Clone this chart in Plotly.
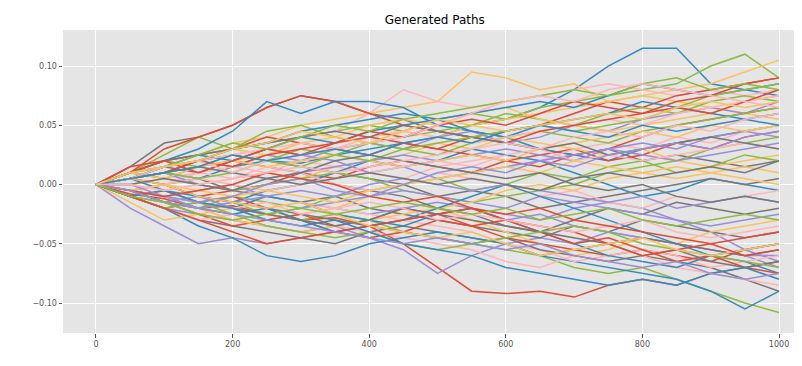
import plotly.graph_objects as go

steps = list(range(0, 1001, 50))

paths = [
    # group 1
    [0, -.008, -.012, -.02, -.018, -.025, -.03, -.028, -.035, -.05, -.07, -.09, -.092, -.09, -.095, -.085, -.08, -.085, -.075, -.07, -.065],
    [0, .005, .01, .005, .015, .02, .018, .025, .03, .035, .04, .05, .055, .065, .08, .1, .115, .115, .085, .08, .075],
    [0, -.01, -.02, -.025, -.03, -.035, -.04, -.035, -.045, -.055, -.075, -.06, -.05, -.045, -.05, -.04, -.045, -.05, -.055, -.06, -.06],
    [0, .015, .035, .04, .05, .065, .075, .07, .06, .055, .045, .04, .035, .03, .025, .03, .02, .025, .02, .015, .02],
    [0, .01, .02, .025, .035, .04, .05, .055, .06, .065, .07, .095, .09, .08, .085, .07, .075, .07, .065, .06, .055],
    [0, .01, .025, .04, .03, .035, .04, .045, .05, .045, .055, .06, .055, .065, .07, .075, .08, .085, .1, .11, .09],
    [0, .005, .01, .02, .025, .03, .04, .045, .06, .08, .07, .065, .07, .075, .08, .085, .08, .075, .08, .075, .08],
    # group 2
    [0, .01, .03, .04, .05, .065, .075, .07, .06, .05, .045, .04, .045, .05, .06, .07, .065, .075, .08, .085, .09],
    [0, .01, .02, .03, .045, .07, .06, .07, .07, .065, .05, .045, .04, .03, .025, .02, .03, .035, .04, .045, .05],
    [0, -.02, -.035, -.05, -.045, -.05, -.045, -.04, -.035, -.03, -.025, -.02, -.025, -.03, -.02, -.015, -.02, -.03, -.04, -.055, -.065],
    [0, -.01, -.02, -.03, -.035, -.04, -.045, -.05, -.04, -.035, -.04, -.045, -.05, -.06, -.055, -.05, -.06, -.065, -.07, -.08, -.09],
    [0, .005, .01, .015, .02, .025, .035, .03, .04, .045, .04, .05, .055, .06, .065, .07, .075, .08, .085, .095, .105],
    [0, -.005, -.01, -.02, -.015, -.025, -.03, -.025, -.03, -.04, -.045, -.05, -.055, -.06, -.07, -.075, -.07, -.08, -.09, -.1, -.108],
    [0, -.01, -.015, -.02, -.03, -.025, -.03, -.035, -.04, -.045, -.05, -.055, -.065, -.07, -.06, -.065, -.06, -.07, -.075, -.08, -.085],
    # group 3
    [0, .005, .0, -.01, -.005, .0, .01, .005, .015, .02, .015, .01, .02, .025, .03, .02, .025, .035, .03, .04, .045],
    [0, -.01, -.02, -.035, -.045, -.06, -.065, -.06, -.05, -.045, -.04, -.045, -.05, -.06, -.065, -.07, -.075, -.08, -.09, -.105, -.09],
    [0, .005, .015, .02, .015, .025, .02, .03, .035, .03, .04, .045, .035, .04, .05, .045, .055, .06, .065, .06, .07],
    [0, -.005, .0, .005, -.005, -.01, -.015, -.01, -.02, -.025, -.03, -.035, -.04, -.045, -.035, -.04, -.03, -.035, -.04, -.045, -.04],
    [0, -.015, -.03, -.025, -.02, -.03, -.025, -.02, -.01, -.015, -.02, -.03, -.04, -.05, -.06, -.055, -.045, -.05, -.04, -.035, -.03],
    [0, .01, .02, .015, .025, .02, .03, .025, .035, .04, .045, .05, .06, .055, .05, .06, .065, .06, .07, .075, .07],
    [0, .005, .0, .01, .015, .01, .02, .015, .01, .005, .015, .02, .025, .02, .03, .035, .03, .04, .035, .045, .05],
    # group 4
    [0, -.005, -.015, -.025, -.035, -.03, -.025, -.035, -.03, -.02, -.025, -.035, -.045, -.05, -.055, -.06, -.055, -.06, -.065, -.055, -.05],
    [0, .005, -.005, -.01, -.015, -.005, .0, .01, .02, .015, .02, .03, .025, .02, .01, .0, -.01, -.005, .005, .0, -.005],
    [0, -.005, -.01, -.005, .0, -.01, -.015, -.02, -.025, -.02, -.015, -.02, -.03, -.025, -.035, -.04, -.045, -.05, -.055, -.06, -.07],
    [0, .005, .01, .02, .025, .02, .015, .01, .005, .0, -.01, -.005, -.01, -.02, -.015, -.01, -.005, .0, .005, .0, .005],
    [0, -.01, -.005, .0, .005, .01, .005, .015, .02, .025, .035, .03, .04, .035, .03, .025, .03, .02, .015, .02, .025],
    [0, -.005, -.015, -.02, -.01, -.015, -.02, -.01, -.005, .0, .005, -.005, .0, .01, .005, .015, .02, .01, .015, .025, .02],
    [0, -.01, -.02, -.03, -.025, -.02, -.015, -.02, -.025, -.03, -.035, -.04, -.05, -.055, -.065, -.06, -.055, -.06, -.07, -.065, -.06],
    # group 5
    [0, .015, .02, .025, .03, .04, .035, .03, .025, .035, .03, .025, .02, .015, .025, .03, .04, .05, .055, .06, .065],
    [0, -.005, -.01, -.015, -.02, -.01, -.015, -.025, -.03, -.035, -.025, -.02, -.03, -.04, -.05, -.06, -.065, -.07, -.06, -.065, -.075],
    [0, .01, .005, .015, .02, .03, .025, .02, .01, .015, .005, .01, .015, .02, .025, .03, .035, .03, .04, .045, .04],
    [0, .005, .015, .01, .02, .015, .01, .0, -.005, -.01, -.02, -.025, -.035, -.04, -.03, -.02, -.025, -.015, -.02, -.025, -.02],
    [0, .005, .015, .025, .03, .025, .035, .04, .05, .055, .05, .06, .065, .055, .05, .045, .05, .055, .06, .07, .075],
    [0, .01, .005, .0, -.005, .0, .005, .01, .005, -.005, -.01, -.015, -.01, -.005, .0, .01, .015, .02, .03, .035, .04],
    [0, .0, .005, .01, .005, .015, .01, .0, -.005, .0, .01, .005, .0, -.01, -.005, -.015, -.02, -.01, -.015, -.01, -.005],
    # group 6
    [0, -.01, -.005, -.015, -.01, -.02, -.03, -.04, -.045, -.04, -.03, -.035, -.03, -.04, -.05, -.045, -.055, -.065, -.06, -.07, -.075],
    [0, .01, .015, .025, .02, .03, .04, .035, .045, .05, .055, .045, .04, .05, .055, .06, .07, .065, .06, .055, .06],
    [0, -.01, -.015, -.01, -.02, -.025, -.02, -.015, -.01, -.005, -.01, -.015, -.02, -.01, -.015, -.02, -.025, -.03, -.035, -.03, -.025],
    [0, .005, .0, -.01, -.015, -.02, -.025, -.03, -.035, -.04, -.045, -.05, -.045, -.055, -.06, -.065, -.06, -.055, -.065, -.07, -.065],
    [0, -.005, -.015, -.02, -.03, -.035, -.04, -.035, -.03, -.025, -.02, -.015, -.005, .0, -.005, .005, .01, .015, .01, .005, .0],
    [0, .005, .015, .02, .03, .045, .05, .04, .035, .03, .025, .035, .04, .045, .04, .035, .045, .05, .055, .06, .065],
    [0, .01, .015, .02, .025, .03, .035, .03, .04, .045, .04, .035, .04, .045, .05, .055, .05, .06, .065, .07, .075],
    # group 7
    [0, .005, .01, .02, .015, .025, .03, .035, .04, .035, .03, .04, .035, .045, .05, .055, .06, .065, .06, .07, .08],
    [0, -.005, -.015, -.02, -.025, -.02, -.03, -.04, -.035, -.03, -.02, -.01, .0, -.01, -.02, -.03, -.04, -.05, -.06, -.055, -.05],
    [0, .005, .01, .0, -.005, .005, .01, .015, .02, .025, .02, .025, .03, .025, .02, .03, .025, .02, .025, .03, .035],
    [0, -.01, -.02, -.015, -.02, -.025, -.03, -.035, -.03, -.02, -.025, -.03, -.035, -.04, -.045, -.05, -.045, -.05, -.055, -.06, -.055],
    [0, .01, .005, .015, .02, .015, .02, .025, .02, .015, .02, .025, .02, .03, .035, .04, .045, .04, .05, .045, .05],
    [0, -.01, -.02, -.015, -.025, -.035, -.04, -.045, -.04, -.05, -.055, -.05, -.045, -.04, -.035, -.04, -.05, -.055, -.06, -.065, -.07],
    [0, -.005, .0, .005, .0, -.005, .0, .005, .01, .015, .02, .015, .025, .03, .02, .025, .02, .025, .03, .035, .03],
    # group 8
    [0, -.01, -.02, -.03, -.04, -.05, -.045, -.04, -.035, -.03, -.025, -.02, -.03, -.035, -.04, -.05, -.06, -.055, -.05, -.045, -.04],
    [0, .005, .015, .02, .03, .035, .045, .05, .055, .06, .055, .06, .065, .07, .065, .075, .085, .08, .075, .08, .085],
    [0, -.005, -.01, -.02, -.015, -.01, -.005, -.01, .0, .005, .0, -.005, .0, -.005, -.01, -.015, -.01, -.02, -.015, -.01, -.015],
    [0, .01, .02, .025, .03, .035, .04, .045, .04, .05, .045, .04, .035, .03, .035, .025, .03, .035, .04, .035, .03],
    [0, -.005, .0, -.005, -.01, -.005, -.01, -.015, -.005, .0, .005, .01, .015, .01, .02, .015, .01, .005, .01, .015, .01],
    [0, .005, .01, .005, .01, .02, .015, .025, .02, .03, .035, .04, .045, .05, .045, .05, .055, .065, .075, .08, .085],
    [0, -.005, -.01, -.015, -.02, -.015, -.025, -.02, -.015, -.02, -.03, -.025, -.03, -.035, -.04, -.035, -.03, -.04, -.045, -.04, -.035],
    # group 9
    [0, .01, .02, .01, .02, .03, .025, .035, .045, .04, .05, .055, .05, .06, .07, .065, .06, .07, .075, .085, .09],
    [0, -.01, -.005, -.015, -.02, -.03, -.035, -.03, -.04, -.05, -.055, -.06, -.07, -.075, -.08, -.085, -.08, -.085, -.075, -.07, -.08],
    [0, .0, -.01, -.015, -.01, .0, .005, -.005, -.01, .0, .01, .015, .01, .02, .015, .025, .03, .035, .03, .04, .045],
    [0, .005, .01, .015, .01, .005, .01, .02, .025, .02, .015, .01, .005, .01, .0, -.005, .0, -.01, -.015, -.01, -.015],
    [0, .005, .0, -.01, -.015, -.02, -.015, -.025, -.035, -.04, -.045, -.04, -.05, -.06, -.055, -.05, -.045, -.055, -.06, -.055, -.05],
    [0, .01, .015, .025, .035, .03, .04, .05, .045, .055, .06, .065, .07, .075, .08, .075, .085, .09, .08, .085, .08],
    [0, .005, .015, .02, .01, .02, .025, .03, .035, .04, .05, .06, .07, .075, .07, .08, .085, .08, .075, .07, .065],
    # group 10
    [0, -.005, -.01, -.005, .0, .01, .005, .0, -.01, -.015, -.01, -.02, -.025, -.02, -.03, -.035, -.04, -.045, -.05, -.06, -.055],
    [0, .005, .01, .015, .025, .02, .025, .03, .025, .035, .04, .035, .045, .05, .045, .04, .05, .045, .05, .055, .05],
    [0, -.005, -.015, -.02, -.025, -.03, -.035, -.04, -.045, -.05, -.045, -.05, -.055, -.05, -.06, -.065, -.07, -.065, -.075, -.08, -.075],
    [0, .0, .005, .0, -.005, .005, .0, .005, .01, .005, .0, .005, .0, -.005, .005, .01, .005, .01, .015, .01, .02],
    [0, .01, .015, .02, .03, .035, .045, .04, .035, .045, .055, .05, .045, .05, .055, .06, .055, .065, .07, .065, .07],
    [0, -.01, -.015, -.025, -.03, -.025, -.02, -.025, -.02, -.015, -.02, -.025, -.02, -.03, -.025, -.02, -.03, -.035, -.03, -.025, -.03],
    [0, .0, -.005, .0, .005, .01, .015, .01, .015, .02, .025, .03, .035, .03, .04, .045, .04, .05, .045, .055, .06],
]

x_ticks = [0, 200, 400, 600, 800, 1000]
y_ticks = [-0.10, -0.05, 0.00, 0.05, 0.10]

palette = ["#E24A33", "#348ABD", "#988ED5", "#777777", "#FBC15E", "#8EBA42", "#FFB5B8"]

fig = go.Figure()
for i, p in enumerate(paths):
    fig.add_trace(go.Scatter(x=steps, y=p, mode="lines",
                             line=dict(color=palette[i % len(palette)], width=1.5),
                             showlegend=False, hoverinfo="skip"))

# page body has an 8px default margin, so the figure is sized to fit the window
fig.update_layout(
    width=794, height=358,
    margin=dict(l=55, r=2, t=22, b=33),
    paper_bgcolor="white",
    plot_bgcolor="#E5E5E5",
    font=dict(family="DejaVu Sans", color="#555555", size=8),
    title=dict(text="Generated Paths", x=0.5375, xanchor="center", y=1 - 12 / 358, yanchor="middle",
               font=dict(family="DejaVu Sans", size=12, color="black")),
)
fig.update_xaxes(range=[-48.3, 1030.7], tickvals=x_ticks, ticktext=[str(v) for v in x_ticks],
                 showgrid=True, gridcolor="white", gridwidth=1, zeroline=False, showline=False,
                 ticks="outside", ticklen=3.5, tickcolor="#555555", tickwidth=0.8)
fig.update_yaxes(range=[-0.1253, 0.1304], tickvals=y_ticks, tickformat=".2f",
                 showgrid=True, gridcolor="white", gridwidth=1, zeroline=False, showline=False,
                 ticks="outside", ticklen=3.5, tickcolor="#555555", tickwidth=0.8)

fig.write_html("out.html")
